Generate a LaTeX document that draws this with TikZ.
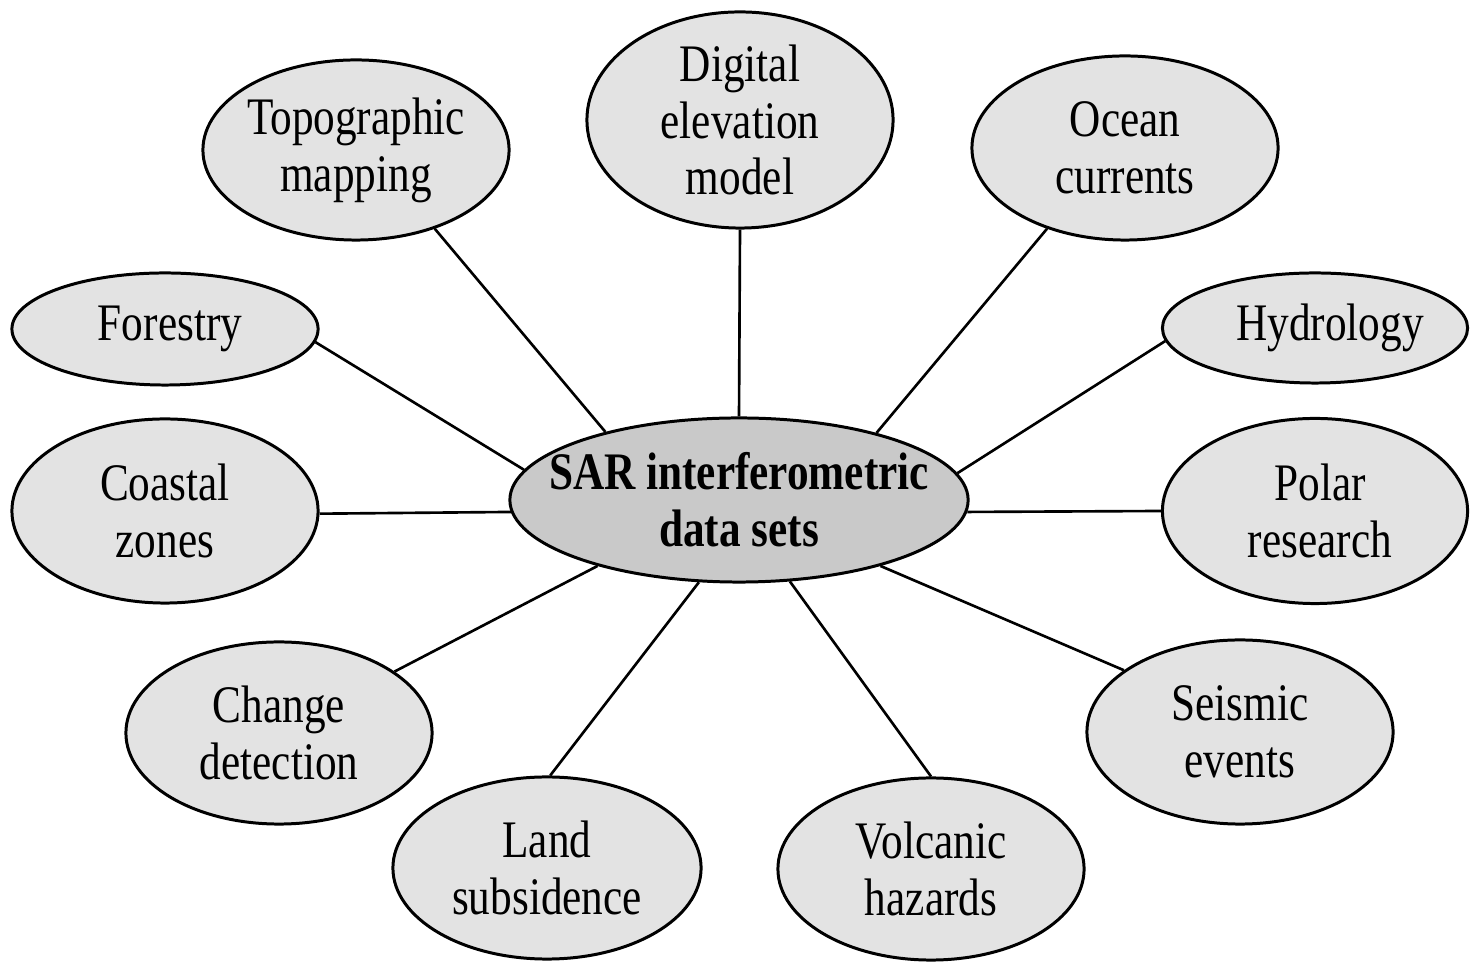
\documentclass[tikz,border=0pt]{standalone}
\usepackage{fontspec}
\setmainfont[FakeStretch=0.82]{Liberation Serif}
\usetikzlibrary{shapes.geometric}
\definecolor{outerfill}{HTML}{E3E3E3}
\definecolor{centerfill}{HTML}{C9C9C9}
\begin{document}
\begin{tikzpicture}[x=0.01cm,y=-0.01cm,
  bubble/.style={ellipse,draw=black,line width=0.85pt,fill=outerfill,
    inner xsep=-0.3cm,inner ysep=-0.2cm,
    align=center,font=\fontsize{15}{16.2}\selectfont},
  hub/.style={bubble,fill=centerfill,font=\fontsize{15}{16.2}\selectfont\bfseries},
  link/.style={line width=0.75pt,draw=black}]
\useasboundingbox[fill=white] (0,0) rectangle (1470,962);
\node[hub,minimum width=4.58cm,minimum height=1.64cm] (sar) at (739,500) {SAR interferometric\\data sets};
\node[bubble,minimum width=3.06cm,minimum height=1.80cm] (topo) at (356,150) {Topographic\\mapping};
\node[bubble,minimum width=3.06cm,minimum height=2.16cm] (dem) at (740,120) {Digital\\elevation\\model};
\node[bubble,minimum width=3.06cm,minimum height=1.84cm] (ocean) at (1125,148) {Ocean\\currents};
\node[bubble,minimum width=3.06cm,minimum height=1.12cm] (forest) at (165,329) {\hspace*{0.1cm}Forestry};
\node[bubble,minimum width=3.05cm,minimum height=1.10cm] (hydro) at (1315,328) {\hspace*{0.3cm}Hydrology};
\node[bubble,minimum width=3.06cm,minimum height=1.84cm] (coast) at (165,511) {Coastal\\zones};
\node[bubble,minimum width=3.05cm,minimum height=1.85cm] (polar) at (1315,511) {\hspace*{0.1cm}Polar\\\hspace*{0.1cm}research};
\node[bubble,minimum width=3.06cm,minimum height=1.82cm] (change) at (279,733) {Change\\detection};
\node[bubble,minimum width=3.06cm,minimum height=1.84cm] (seismic) at (1240,732) {Seismic\\events};
\node[bubble,minimum width=3.08cm,minimum height=1.82cm] (land) at (547,868) {Land\\subsidence};
\node[bubble,minimum width=3.06cm,minimum height=1.82cm] (volc) at (931,869) {Volcanic\\hazards};
\draw[link] (sar.153.4) -- (topo.-45.4);
\draw[link] (sar.90) -- (dem.-90);
\draw[link] (sar.26) -- (ocean.-134.3);
\draw[link] (sar.172.5) -- (forest.-5);
\draw[link] (sar.7) -- (hydro.185.8);
\draw[link] (sar.183.5) -- (coast.-1.1);
\draw[link] (sar.-3.5) -- (polar.180.4);
\draw[link] (sar.205.3) -- (change.28.5);
\draw[link] (sar.-25.7) -- (seismic.152.9);
\draw[link] (sar.244.3) -- (land.88);
\draw[link] (sar.-58.8) -- (volc.90.6);
\end{tikzpicture}
\end{document}
